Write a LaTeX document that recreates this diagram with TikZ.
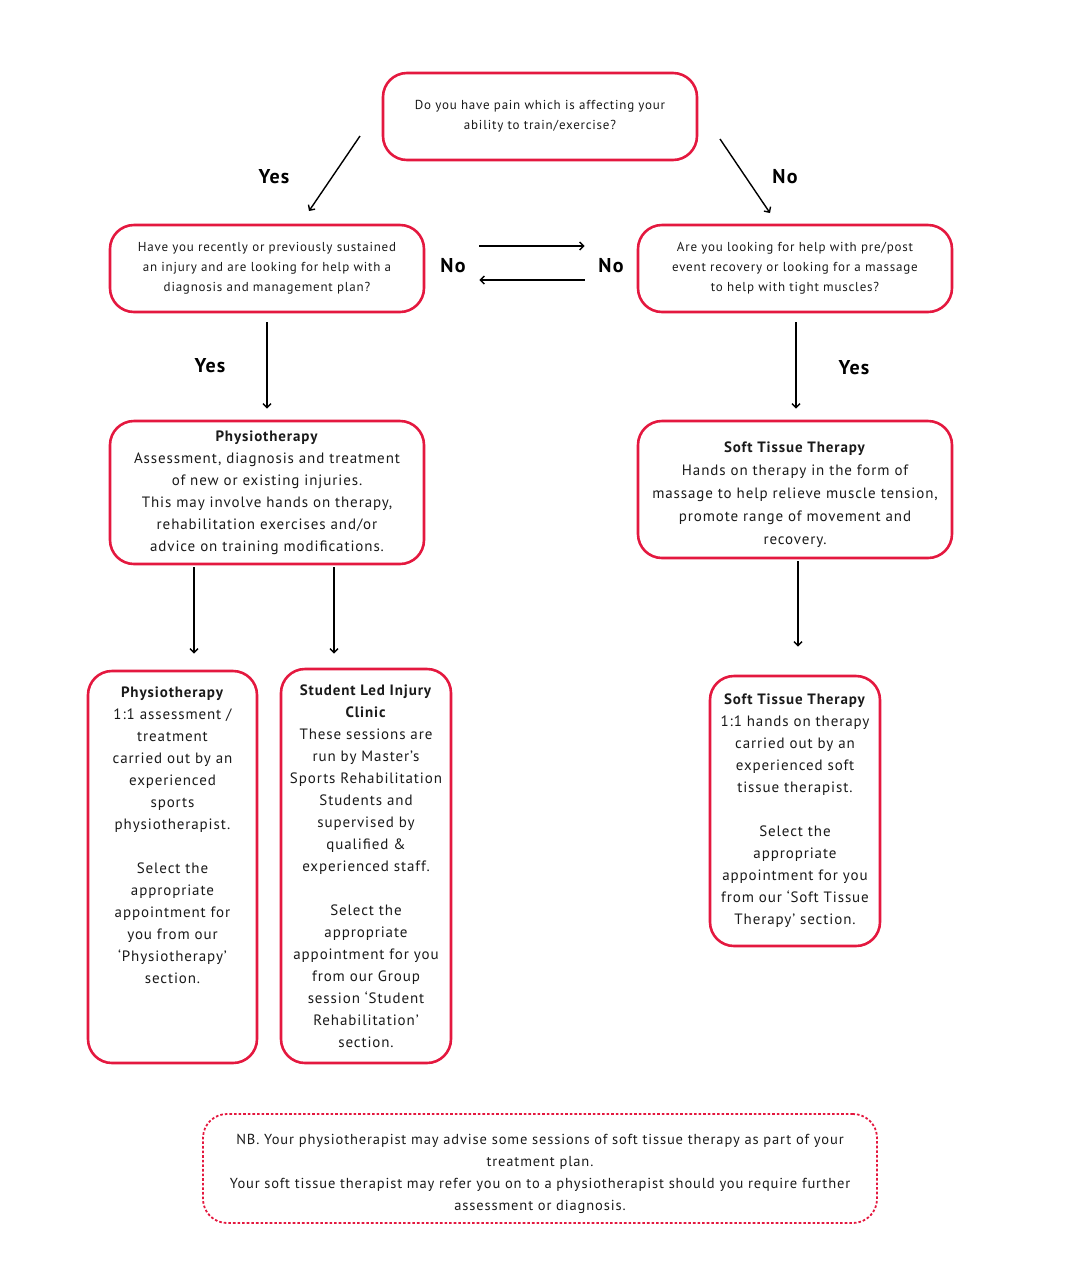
\documentclass[tikz,border=0pt]{standalone}
\usepackage{fontspec}
\setmainfont[LetterSpace=6]{PT Sans}
\usetikzlibrary{arrows.meta,positioning}
\definecolor{clinicred}{HTML}{E4183F}
\definecolor{inkgrey}{HTML}{1A1A1A}

\begin{document}
\begin{tikzpicture}[x=1pt,y=-1pt,
    box/.style={draw=clinicred, line width=2.6pt, rounded corners=24pt, align=center, text=inkgrey, inner sep=0pt},
    qbox/.style={box, minimum width=314pt, minimum height=87pt, font=\fontsize{13}{20}\selectfont},
    ibox/.style={box, font=\fontsize{15}{22}\selectfont},
    boxtext/.style={ibox, draw=none},
    ans/.style={font=\fontsize{20}{22}\selectfont\bfseries, text=black},
    arr/.style={-{Straight Barb[length=4pt,width=8pt]}, line width=1.4pt}]
    \useasboundingbox (0,0) rectangle (1080,1278);
    % questions
    \node[qbox](pain) at (540,116.5){Do you have pain which is affecting your\\ability to train/exercise?};
    \node[qbox](injury) at (267,268.5){Have you recently or previously sustained\\an injury and are looking for help with a\\diagnosis and management plan?};
    \node[qbox](recov) at (795,268.5){Are you looking for help with pre/post\\event recovery or looking for a massage\\to help with tight muscles?};
    % services
    \node[ibox, minimum width=314pt, minimum height=143pt](physio) at (267,492.5){\textbf{Physiotherapy}\\Assessment, diagnosis and treatment\\of new or existing injuries.\\This may involve hands on therapy,\\rehabilitation exercises and/or\\advice on training modifications.};
    \node[ibox, minimum width=314pt, minimum height=137pt](stt) at (795,489.5){};
    \node[boxtext, font=\fontsize{15}{23}\selectfont](stttext) at (795,495){\textbf{Soft Tissue Therapy}\\Hands on therapy in the form of\\massage to help relieve muscle tension,\\promote range of movement and\\recovery.};
    % appointments
    \node[ibox, minimum width=169pt, minimum height=392pt](physone) at (172.5,867){};
    \node[boxtext, anchor=north](physonetext) at (172.5,686){\textbf{Physiotherapy}\\1:1 assessment /\\treatment\\carried out by an\\experienced\\sports\\physiotherapist.\\[22pt]Select the\\appropriate\\appointment for\\you from our\\‘Physiotherapy’\\section.};
    \node[ibox, minimum width=170pt, minimum height=394pt](student) at (366,866){\textbf{Student Led Injury}\\\textbf{Clinic}\\These sessions are\\run by Master’s\\Sports Rehabilitation\\Students and\\supervised by\\qualified \&\\experienced staff.\\[22pt]Select the\\appropriate\\appointment for you\\from our Group\\session ‘Student\\Rehabilitation’\\section.};
    \node[ibox, minimum width=170pt, minimum height=270pt](sttone) at (795,811){\textbf{Soft Tissue Therapy}\\1:1 hands on therapy\\carried out by an\\experienced soft\\tissue therapist.\\[22pt]Select the\\appropriate\\appointment for you\\from our ‘Soft Tissue\\Therapy’ section.};
    % note
    \node[ibox, dotted, line width=1.8pt, minimum width=674pt, minimum height=109pt](note) at (540,1168.5){};
    \node[boxtext, font=\fontsize{14.5}{22}\selectfont](notetext) at (540,1174){NB. Your physiotherapist may advise some sessions of soft tissue therapy as part of your\\treatment plan.\\Your soft tissue therapist may refer you on to a physiotherapist should you require further\\assessment or diagnosis.};
    % answers
    \node[ans](yesleft) at (274,177){Yes};
    \node[ans](noright) at (785,177){No};
    \node[ans](noleft) at (453,266){No};
    \node[ans](nomid) at (611,266){No};
    \node[ans](yesdown) at (210,366){Yes};
    \node[ans](yesstt) at (854,368){Yes};
    % connectors
    \coordinate (painyes) at (360,136);
    \coordinate (injurytop) at (309,211);
    \coordinate (painno) at (720,139);
    \coordinate (recovtop) at (770,213);
    \draw[arr](painyes)--(injurytop);
    \draw[arr](painno)--(recovtop);
    \draw[arr, shorten <=54pt, shorten >=52pt](injury.east |- 0,246)--(recov.west |- 0,246);
    \draw[arr, shorten <=52pt, shorten >=54pt](recov.west |- 0,280)--(injury.east |- 0,280);
    \draw[arr, shorten <=9pt, shorten >=11pt](injury)--(physio);
    \draw[arr, shorten <=9pt, shorten >=11pt](recov.south -| 796,0)--(stt.north -| 796,0);
    \draw[arr, shorten <=2pt, shorten >=16pt](physio.south -| 194,0)--(physone.north -| 194,0);
    \draw[arr, shorten <=2pt, shorten >=14pt](physio.south -| 334,0)--(student.north -| 334,0);
    \draw[arr, shorten <=2pt, shorten >=28pt](stt.south -| 798,0)--(sttone.north -| 798,0);
\end{tikzpicture}
\end{document}
